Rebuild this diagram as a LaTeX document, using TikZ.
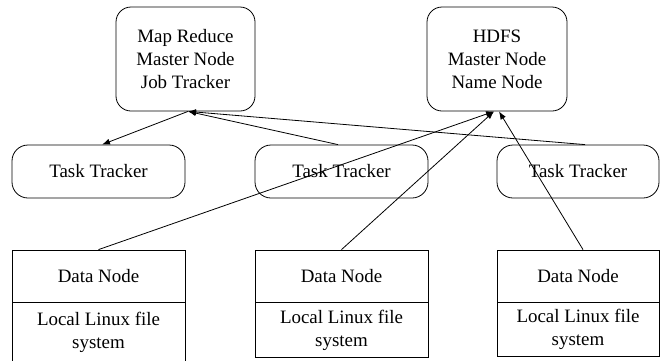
\documentclass[tikz,border=0pt]{standalone}
\usepackage{fontspec}
\setmainfont{Liberation Serif}
\usetikzlibrary{arrows.meta}
\begin{document}
\begin{tikzpicture}[x=1bp,y=-1bp,
  every node/.style={font=\fontsize{19}{23}\selectfont, align=center, inner sep=0pt},
  master/.style={draw, line width=0.8bp, rounded corners=15bp, minimum width=139bp, minimum height=104bp},
  tracker/.style={draw, line width=0.8bp, rounded corners=16bp, minimum height=53bp},
  cell/.style={draw, line width=0.8bp},
  link/.style={line width=0.8bp, -{Latex[length=8bp,width=6bp]}}]
\useasboundingbox (0,0) rectangle (660,360);

% master nodes
\node[master] (jt) at (185.5,59) {Map Reduce\\Master Node\\Job Tracker};
\node[master, minimum width=140bp] (nn) at (497,59) {HDFS\\Master Node\\Name Node};

% task trackers
\node[tracker, minimum width=173bp] (tt1) at (98.5,171.5) {Task Tracker};
\node[tracker, minimum width=173bp] (tt2) at (341.5,171.5) {Task Tracker};
\node[tracker, minimum width=162bp] (tt3) at (578,171.5) {Task Tracker};

% data nodes, each with its local file system beneath
\node[cell, minimum width=173bp, minimum height=52bp] (dn1) at (98.5,276) {Data Node};
\node[cell, minimum width=173bp, minimum height=60bp, anchor=north] (fs1) at (dn1.south) {Local Linux file\\system};
\node[cell, minimum width=173bp, minimum height=52bp] (dn2) at (341.5,276) {Data Node};
\node[cell, minimum width=173bp, minimum height=55bp, anchor=north] (fs2) at (dn2.south) {Local Linux file\\system};
\node[cell, minimum width=162bp, minimum height=52bp] (dn3) at (578,276) {Data Node};
\node[cell, minimum width=162bp, minimum height=54bp, anchor=north] (fs3) at (dn3.south) {Local Linux file\\system};

% job tracker <-> task trackers
\draw[link] ([xshift=2.5bp]jt.south) -- ([xshift=3.5bp]tt1.north);
\draw[link] ([xshift=-3.5bp]tt2.north) -- ([xshift=2.5bp]jt.south);
\draw[link] ([xshift=7bp]tt3.north) -- ([xshift=2.5bp]jt.south);

% data nodes -> name node
\draw[link] (dn1.north) -- ([xshift=-3bp]nn.south);
\draw[link] (dn2.north) -- ([xshift=-3bp]nn.south);
\draw[link] ([xshift=5bp]dn3.north) -- ([xshift=2bp]nn.south);
\end{tikzpicture}
\end{document}
